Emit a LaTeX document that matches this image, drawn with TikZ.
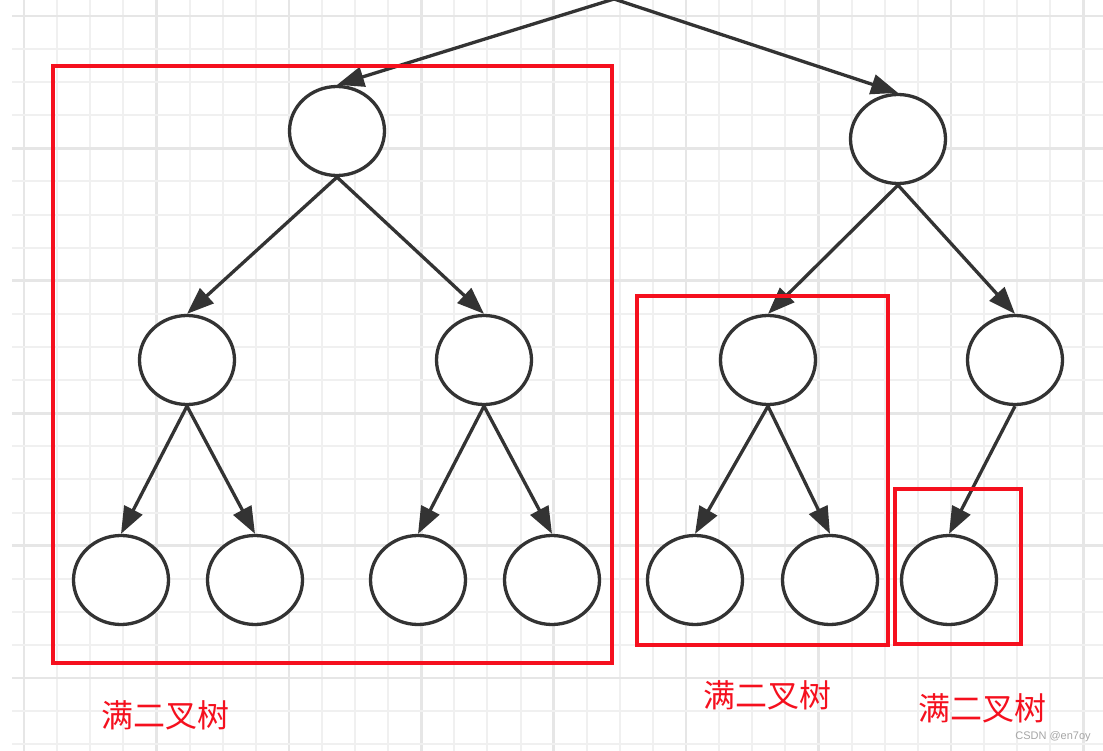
\documentclass[tikz,border=0pt]{standalone}
\usepackage{fontspec}
\newfontfamily\cjk{Noto Sans CJK SC}
\newfontfamily\wmfont{Liberation Sans}
\usetikzlibrary{shapes.geometric,arrows.meta}
\definecolor{boxred}{HTML}{F5101E}
\definecolor{edgegray}{HTML}{333333}
\definecolor{gridlight}{HTML}{F0F0F0}
\definecolor{griddark}{HTML}{E6E6E6}
\begin{document}
\begin{tikzpicture}[x=1pt,y=-1pt,
  tnode/.style={ellipse,draw=edgegray,line width=3.3pt,fill=white,inner sep=0pt,minimum width=95pt,minimum height=89pt},
  edge/.style={draw=edgegray,line width=3.3pt,-{Triangle[length=27pt,width=20pt]}},
  redbox/.style={draw=boxred,line width=3.2pt},
  lbl/.style={text=boxred,font=\cjk\fontsize{32}{32}\selectfont,inner sep=0pt}]
\useasboundingbox (0,0) rectangle (1103,751);
\fill[white] (0,0) rectangle (1103,751);
% grid
\foreach \i in {0,...,33} {
  \pgfmathsetmacro{\xx}{24+33.1*\i}
  \pgfmathtruncatemacro{\m}{mod(\i,4)}
  \ifnum\m=0
    \draw[griddark,line width=2.6pt] (\xx,0) -- (\xx,751);
  \else
    \draw[gridlight,line width=2pt] (\xx,0) -- (\xx,751);
  \fi
}
\foreach \j in {0,...,22} {
  \pgfmathsetmacro{\yy}{16+33.1*\j}
  \pgfmathtruncatemacro{\m}{mod(\j,4)}
  \ifnum\m=0
    \draw[griddark,line width=2.6pt] (12,\yy) -- (1103,\yy);
  \else
    \draw[gridlight,line width=2pt] (12,\yy) -- (1103,\yy);
  \fi
}
% nodes
\coordinate (root) at (614,-1);
\node[tnode] (a) at (337,131) {};
\node[tnode] (b) at (898,139) {};
\node[tnode] (a1) at (187,360) {};
\node[tnode] (a2) at (484,360) {};
\node[tnode] (b1) at (768,360) {};
\node[tnode] (b2) at (1015,360) {};
\node[tnode] (a11) at (121,580) {};
\node[tnode] (a12) at (255,580) {};
\node[tnode] (a21) at (418,580) {};
\node[tnode] (a22) at (552,580) {};
\node[tnode] (b11) at (695,580) {};
\node[tnode] (b12) at (830,580) {};
\node[tnode] (b21) at (949,580) {};
% edges
\draw[edge] (root) -- (a.north);
\draw[edge] (root) -- (b.north);
\draw[edge] (a.south) -- (a1.north);
\draw[edge] (a.south) -- (a2.north);
\draw[edge] (b.south) -- (b1.north);
\draw[edge] (b.south) -- (b2.north);
\draw[edge] (a1.south) -- (a11.north);
\draw[edge] (a1.south) -- (a12.north);
\draw[edge] (a2.south) -- (a21.north);
\draw[edge] (a2.south) -- (a22.north);
\draw[edge] (b1.south) -- (b11.north);
\draw[edge] (b1.south) -- (b12.north);
\draw[edge] (b2.south) -- (b21.north);
% red boxes
\draw[redbox] (53,66) rectangle (612,663);
\draw[redbox] (637,296) rectangle (888,645);
\draw[redbox] (895,489) rectangle (1021,644);
% labels
\node[lbl] (l1) at (165,715) {满二叉树};
\node[lbl] (l2) at (767,695) {满二叉树};
\node[lbl] (l3) at (982,708) {满二叉树};
\node[text=gray!70,font=\wmfont\fontsize{11}{11}\selectfont,inner sep=0pt] (wm) at (1053,737) {CSDN @en7oy};
\end{tikzpicture}
\end{document}
